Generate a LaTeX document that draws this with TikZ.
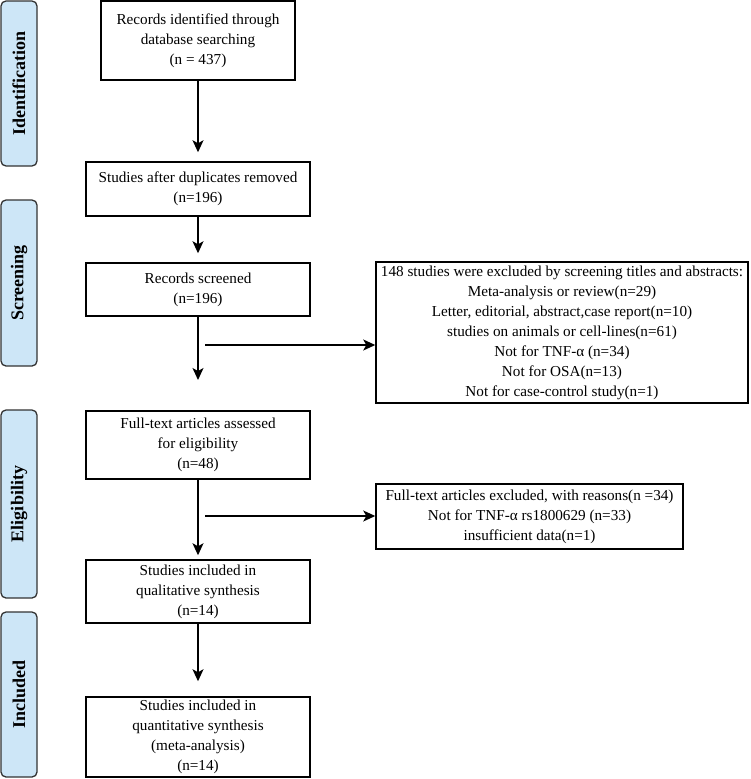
\documentclass[tikz,border=0pt]{standalone}
\usepackage{fontspec}
\setmainfont{Liberation Serif}
\usepackage{tikz}
\usetikzlibrary{arrows.meta}
\definecolor{phaseblue}{RGB}{205,230,247}

\begin{document}
\begin{tikzpicture}[x=1pt,y=-1pt,
    box/.style={draw=black, line width=1.5pt, align=center, inner sep=0pt,
        font=\fontsize{15.2}{20}\selectfont},
    phase/.style={draw=black!80, fill=phaseblue, line width=1.3pt,
        rounded corners=5pt, rotate=90, minimum height=36pt, inner sep=0pt,
        font=\fontsize{18}{20}\selectfont\bfseries},
    flow/.style={line width=1.3pt, -{Stealth[length=12pt,width=11pt,inset=3pt]}}]
            \useasboundingbox (0,0) rectangle (750,779);

            % phases on the left
            \node[phase, minimum width=165pt] (identphase) at (19,83.5) {Identification};
            \node[phase, minimum width=166pt] (screenphase) at (19,283) {Screening};
            \node[phase, minimum width=188pt] (eligphase) at (19,504) {Eligibility};
            \node[phase, minimum width=165pt] (inclphase) at (19,694.5) {Included};

            % main column
            \node[box, minimum width=194pt, minimum height=79pt] (ident) at (198,40.5)
                {Records identified through\\database searching\\(n = 437)};
            \node[box, minimum width=224pt, minimum height=54pt] (dup) at (198,189)
                {Studies after duplicates removed\\(n=196)};
            \node[box, minimum width=224pt, minimum height=53pt] (screen) at (198,289.5)
                {Records screened\\(n=196)};
            \node[box, minimum width=224pt, minimum height=68pt] (full) at (198,445)
                {Full-text articles assessed\\for eligibility\\(n=48)};
            \node[box, minimum width=224pt, minimum height=63pt] (qual) at (198,591.5)
                {Studies included in\\qualitative synthesis\\(n=14)};
            \node[box, minimum width=224pt, minimum height=80pt] (quant) at (198,737)
                {Studies included in\\quantitative synthesis\\(meta-analysis)\\(n=14)};

            % exclusions
            \node[box, minimum width=372pt, minimum height=141pt] (excl) at (562,332.5)
                {148 studies were excluded by screening titles and abstracts:\\
                 Meta-analysis or review(n=29)\\
                 Letter, editorial, abstract,case report(n=10)\\
                 studies on animals or cell-lines(n=61)\\
                 Not for TNF-α (n=34)\\
                 Not for OSA(n=13)\\
                 Not for case-control study(n=1)};
            \node[box, minimum width=307pt, minimum height=65pt] (fullexcl) at (529.5,516.5)
                {Full-text articles excluded, with reasons(n =34)\\
                 Not for TNF-α rs1800629 (n=33)\\
                 insufficient data(n=1)};

            \coordinate (screenend) at (198,380);
            \coordinate (screenout) at (205,345);
            \coordinate (fullout) at (205,516);

            \draw[flow, shorten >=9pt] (ident) -- (dup);
            \draw[flow, shorten >=9pt] (dup) -- (screen);
            \draw[flow] (screen) -- (screenend);
            \draw[flow] (screenout) -- (screenout -| excl.west);
            \draw[flow, shorten >=4pt] (full) -- (qual);
            \draw[flow] (fullout) -- (fullout -| fullexcl.west);
            \draw[flow, shorten >=15pt] (qual) -- (quant);
        \end{tikzpicture}
\end{document}
